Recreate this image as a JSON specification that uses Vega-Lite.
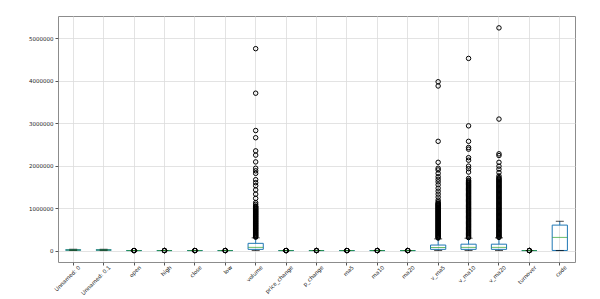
{
  "$schema": "https://vega.github.io/schema/vega-lite/v6.json",
  "width": 517,
  "height": 246,
  "autosize": {"type": "none"},
  "padding": {"left": 58, "top": 16, "right": 25, "bottom": 37},
  "background": "white",
  "config": {
    "view": {"stroke": "#8c8c8c", "strokeWidth": 1},
    "axis": {
      "labelFont": "DejaVu Sans",
      "labelFontSize": 5.5,
      "labelColor": "#222222",
      "tickColor": "#555555",
      "tickSize": 3,
      "domain": false,
      "gridColor": "#dcdcdc",
      "gridWidth": 0.8,
      "title": null
    }
  },
  "datasets": {
    "stats": [
      {"col": "Unnamed: 0", "lo": 0, "q1": 9000, "med": 13000, "q3": 17000, "hi": 30000},
      {"col": "Unnamed: 0.1", "lo": 0, "q1": 9000, "med": 13000, "q3": 17000, "hi": 30000},
      {"col": "open", "lo": 2, "q1": 8, "med": 12, "q3": 18, "hi": 33},
      {"col": "high", "lo": 2, "q1": 8, "med": 12, "q3": 19, "hi": 34},
      {"col": "close", "lo": 2, "q1": 8, "med": 12, "q3": 18, "hi": 33},
      {"col": "low", "lo": 2, "q1": 8, "med": 12, "q3": 18, "hi": 32},
      {"col": "volume", "lo": 0, "q1": 28000, "med": 75000, "q3": 170000, "hi": 300000},
      {"col": "price_change", "lo": -1, "q1": -0.2, "med": 0, "q3": 0.2, "hi": 0.8},
      {"col": "p_change", "lo": -5, "q1": -1, "med": 0, "q3": 1, "hi": 4},
      {"col": "ma5", "lo": 2, "q1": 8, "med": 12, "q3": 18, "hi": 33},
      {"col": "ma10", "lo": 2, "q1": 8, "med": 12, "q3": 18, "hi": 33},
      {"col": "ma20", "lo": 2, "q1": 8, "med": 12, "q3": 18, "hi": 33},
      {"col": "v_ma5", "lo": 0, "q1": 28000, "med": 72000, "q3": 130000, "hi": 275000},
      {"col": "v_ma10", "lo": 0, "q1": 28000, "med": 75000, "q3": 150000, "hi": 290000},
      {"col": "v_ma20", "lo": 0, "q1": 28000, "med": 75000, "q3": 150000, "hi": 300000},
      {"col": "turnover", "lo": 0, "q1": 0.5, "med": 1.2, "q3": 2.5, "hi": 5},
      {"col": "code", "lo": 1, "q1": 2000, "med": 310000, "q3": 600000, "hi": 690000}
    ],
    "fliers": [
      {"col": "open", "v": [45, 60, 75, 90]},
      {"col": "high", "v": [46, 62, 78, 95]},
      {"col": "close", "v": [45, 60, 76, 90]},
      {"col": "low", "v": [44, 58, 72, 88]},
      {"col": "price_change", "v": [-4, -2, 2, 3, 5]},
      {"col": "p_change", "v": [-10, -8, 7, 10]},
      {"col": "ma5", "v": [45, 55, 70, 88]},
      {"col": "ma10", "v": [45, 55, 70, 88]},
      {"col": "ma20", "v": [45, 55, 70, 88]},
      {"col": "turnover", "v": [8, 12, 15, 22]},
      {"col": "volume", "v": [4760000, 3710000, 2830000, 2660000, 2350000, 2250000, 2090000, 1940000, 1880000, 1820000, 1670000, 1600000, 1530000, 1430000, 1330000, 1230000, 1130000, 1090000, 1050000, 1035000, 1020000, 1005000, 990000, 975000, 960000, 945000, 930000, 915000, 900000, 885000, 870000, 855000, 840000, 825000, 810000, 795000, 780000, 765000, 750000, 735000, 720000, 705000, 690000, 675000, 660000, 645000, 630000, 615000, 600000, 585000, 570000, 555000, 540000, 525000, 510000, 495000, 480000, 465000, 450000, 435000, 420000, 405000, 390000, 375000, 360000, 345000, 330000, 315000]},
      {"col": "v_ma5", "v": [3980000, 3880000, 2575000, 2080000, 1940000, 1900000, 1820000, 1740000, 1680000, 1620000, 1550000, 1470000, 1400000, 1330000, 1260000, 1190000, 1150000, 1120000, 1105000, 1090000, 1075000, 1060000, 1045000, 1030000, 1015000, 1000000, 985000, 970000, 955000, 940000, 925000, 910000, 895000, 880000, 865000, 850000, 835000, 820000, 805000, 790000, 775000, 760000, 745000, 730000, 715000, 700000, 685000, 670000, 655000, 640000, 625000, 610000, 595000, 580000, 565000, 550000, 535000, 520000, 505000, 490000, 475000, 460000, 445000, 430000, 415000, 400000, 385000, 370000, 355000, 340000, 325000, 310000, 295000]},
      {"col": "v_ma10", "v": [4530000, 2940000, 2575000, 2430000, 2390000, 2190000, 2130000, 1990000, 1930000, 1850000, 1700000, 1660000, 1640000, 1620000, 1600000, 1580000, 1560000, 1540000, 1520000, 1500000, 1480000, 1460000, 1440000, 1420000, 1400000, 1380000, 1360000, 1340000, 1320000, 1300000, 1280000, 1260000, 1240000, 1220000, 1200000, 1180000, 1160000, 1140000, 1120000, 1100000, 1080000, 1060000, 1040000, 1020000, 1000000, 980000, 960000, 940000, 920000, 900000, 880000, 860000, 840000, 820000, 800000, 780000, 760000, 740000, 720000, 700000, 680000, 660000, 640000, 620000, 600000, 580000, 560000, 540000, 520000, 500000, 480000, 460000, 440000, 420000, 400000, 380000, 360000, 340000, 320000, 305000]},
      {"col": "v_ma20", "v": [5250000, 3100000, 2280000, 2240000, 2080000, 1990000, 1920000, 1840000, 1760000, 1720000, 1700000, 1680000, 1660000, 1640000, 1620000, 1600000, 1580000, 1560000, 1540000, 1520000, 1500000, 1480000, 1460000, 1440000, 1420000, 1400000, 1380000, 1360000, 1340000, 1320000, 1300000, 1280000, 1260000, 1240000, 1220000, 1200000, 1180000, 1160000, 1140000, 1120000, 1100000, 1080000, 1060000, 1040000, 1020000, 1000000, 980000, 960000, 940000, 920000, 900000, 880000, 860000, 840000, 820000, 800000, 780000, 760000, 740000, 720000, 700000, 680000, 660000, 640000, 620000, 600000, 580000, 560000, 540000, 520000, 500000, 480000, 460000, 440000, 420000, 400000, 380000, 360000, 340000, 320000, 310000]}
    ]
  },
  "layer": [
    {
      "data": {"name": "stats"},
      "mark": {"type": "rule", "color": "#1f77b4", "strokeWidth": 1},
      "encoding": {
        "x": {
          "field": "col", "type": "nominal",
          "scale": {"type": "band", "paddingInner": 0, "paddingOuter": 0,
            "domain": ["Unnamed: 0", "Unnamed: 0.1", "open", "high", "close", "low", "volume", "price_change", "p_change", "ma5", "ma10", "ma20", "v_ma5", "v_ma10", "v_ma20", "turnover", "code"]},
          "axis": {"labelAngle": -45, "labelAlign": "right", "labelBaseline": "middle", "labelOffset": 6, "labelPadding": 1, "grid": true}
        },
        "y": {
          "field": "lo", "type": "quantitative",
          "scale": {"domain": [-270000, 5530000], "nice": false, "zero": false},
          "axis": {"values": [0, 1000000, 2000000, 3000000, 4000000, 5000000], "format": "d", "grid": true, "labelPadding": 2}
        },
        "y2": {"field": "q1"}
      }
    },
    {
      "data": {"name": "stats"},
      "mark": {"type": "rule", "color": "#1f77b4", "strokeWidth": 1},
      "encoding": {
        "x": {"field": "col", "type": "nominal"},
        "y": {"field": "q3", "type": "quantitative"},
        "y2": {"field": "hi"}
      }
    },
    {
      "data": {"name": "stats"},
      "mark": {"type": "bar", "width": {"band": 0.5}, "fill": "white", "fillOpacity": 0, "stroke": "#1f77b4", "strokeWidth": 1},
      "encoding": {
        "x": {"field": "col", "type": "nominal"},
        "y": {"field": "q1", "type": "quantitative"},
        "y2": {"field": "q3"}
      }
    },
    {
      "data": {"name": "stats"},
      "mark": {"type": "tick", "color": "#000000", "size": 8, "thickness": 1, "orient": "horizontal"},
      "encoding": {
        "x": {"field": "col", "type": "nominal"},
        "y": {"field": "lo", "type": "quantitative"}
      }
    },
    {
      "data": {"name": "stats"},
      "mark": {"type": "tick", "color": "#000000", "size": 8, "thickness": 1, "orient": "horizontal"},
      "encoding": {
        "x": {"field": "col", "type": "nominal"},
        "y": {"field": "hi", "type": "quantitative"}
      }
    },
    {
      "data": {"name": "stats"},
      "mark": {"type": "tick", "color": "#2ca02c", "size": 15, "thickness": 1, "orient": "horizontal"},
      "encoding": {
        "x": {"field": "col", "type": "nominal"},
        "y": {"field": "med", "type": "quantitative"}
      }
    },
    {
      "data": {"name": "fliers"},
      "transform": [{"flatten": ["v"]}],
      "mark": {"type": "point", "shape": "circle", "filled": false, "stroke": "#000000", "strokeWidth": 1, "size": 20, "opacity": 1},
      "encoding": {
        "x": {"field": "col", "type": "nominal"},
        "y": {"field": "v", "type": "quantitative"}
      }
    }
  ]
}
